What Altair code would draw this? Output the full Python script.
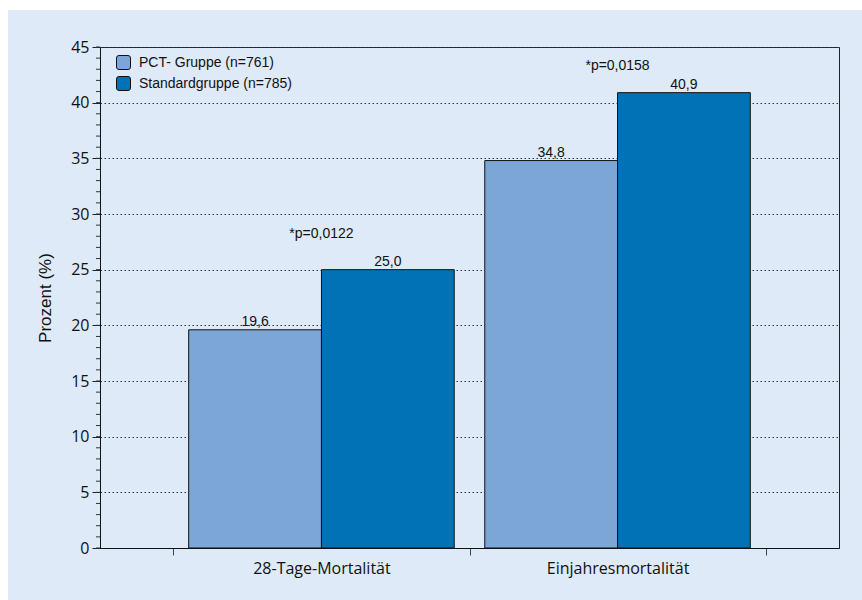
import altair as alt
import pandas as pd

# Mortality by study group
categories = ["28-Tage-Mortalität", "Einjahresmortalität"]
groups = ["PCT- Gruppe (n=761)", "Standardgruppe (n=785)"]
pct_values = [19.6, 34.8]
standard_values = [25.0, 40.9]
p_labels = ["*p=0,0122", "*p=0,0158"]
p_label_y = [28.2, 43.3]
colors = ["#7BA6D6", "#0072B5"]
y_ticks = list(range(0, 50, 5))
minor_ticks = list(range(0, 46))

W, H = 739, 501
BG = "#DEEAF7"
SANS = "Liberation Sans"
AXFONT = "Open Sans"

bars_df = pd.DataFrame({
    "category": categories * 2,
    "group": [groups[0]] * 2 + [groups[1]] * 2,
    "value": pct_values + standard_values,
})
p_df = pd.DataFrame({"category": categories, "label": p_labels, "y": p_label_y})
minor_df = pd.DataFrame({"t": minor_ticks})

x_enc = alt.X(
    "category:N",
    sort=categories,
    scale=alt.Scale(paddingInner=0, paddingOuter=0.248),
    axis=alt.Axis(
        title=None, labelAngle=0, tickBand="extent", tickSize=7, tickColor="#444",
        domainColor="#111", labelFont=AXFONT, labelFontSize=16, labelColor="#111",
        labelPadding=5,
    ),
)
xoff_enc = alt.XOffset("group:N", sort=groups,
                       scale=alt.Scale(paddingInner=0, paddingOuter=0.115))
y_scale = alt.Scale(domain=[0, 45], nice=False)

bars = alt.Chart(bars_df).mark_bar(stroke="#111", strokeWidth=1).encode(
    x=x_enc,
    xOffset=xoff_enc,
    y=alt.Y(
        "value:Q", scale=y_scale,
        axis=alt.Axis(
            values=y_ticks, grid=True, gridDash=[1.5, 2.5], gridColor="#333", gridWidth=1,
            tickSize=8, tickColor="#222", domainColor="#111", labelFont=AXFONT,
            labelFontSize=16, labelColor="#111", labelPadding=3,
            title="Prozent (%)", titleFont=SANS, titleFontSize=17,
            titleFontWeight="normal", titleColor="#111", titlePadding=16,
        ),
    ),
    fill=alt.Fill(
        "group:N", sort=groups,
        scale=alt.Scale(domain=groups, range=colors),
        legend=alt.Legend(
            title=None, orient="none", legendX=16, legendY=8, padding=0,
            symbolType="M-1,-0.65 Q-1,-1 -0.65,-1 L0.65,-1 Q1,-1 1,-0.65 L1,0.65 Q1,1 0.65,1 L-0.65,1 Q-1,1 -1,0.65 Z",
            symbolSize=196, symbolStrokeColor="#111", symbolStrokeWidth=1,
            labelFont=SANS, labelFontSize=14, labelColor="#111", labelOffset=8,
            rowPadding=2,
        ),
    ),
)

value_text = alt.Chart(bars_df).transform_calculate(
    txt="replace(format(datum.value, '.1f'), '.', ',')"
).mark_text(font=SANS, fontSize=14, color="#111", baseline="bottom", dy=-1).encode(
    x=alt.X("category:N", sort=categories),
    xOffset=alt.XOffset("group:N", sort=groups),
    y=alt.Y("value:Q", scale=y_scale),
    text="txt:N",
)

p_text = alt.Chart(p_df).mark_text(font=SANS, fontSize=14, color="#111").encode(
    x=alt.X("category:N", sort=categories),
    y=alt.Y("y:Q", scale=y_scale),
    text="label:N",
)

minor = alt.Chart(minor_df).mark_rule(color="#333", strokeWidth=1).encode(
    y=alt.Y("t:Q", scale=y_scale),
    x=alt.value(-4),
    x2=alt.value(0),
)

# white page margin along the top and left edges
edge = pd.DataFrame({"k": [0]})
left_strip = alt.Chart(edge).mark_rect(color="white").encode(
    x=alt.value(-100), x2=alt.value(-92), y=alt.value(-47), y2=alt.value(H + 52)
)
top_strip = alt.Chart(edge).mark_rect(color="white").encode(
    x=alt.value(-100), x2=alt.value(W + 23), y=alt.value(-47), y2=alt.value(-37)
)

chart = alt.layer(left_strip, top_strip, bars, minor, value_text, p_text).properties(
    width=W, height=H,
    autosize=alt.AutoSizeParams(type="none"),
    padding={"left": 100, "top": 47, "right": 23, "bottom": 52},
    background=BG,
).configure_view(stroke="#222", strokeWidth=1)

chart.save("out.html", embed_options={"renderer": "svg", "actions": False})
